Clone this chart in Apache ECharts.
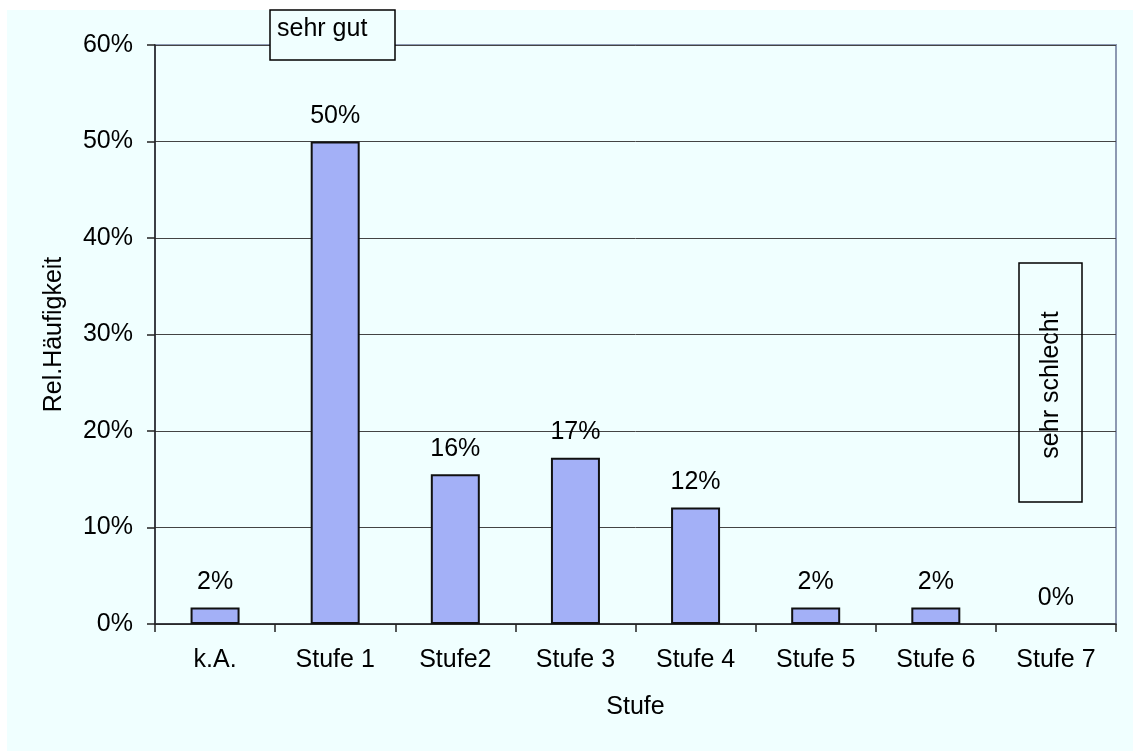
<!DOCTYPE html>
<html>
<head>
<meta charset="utf-8">
<script src="https://cdn.jsdelivr.net/npm/echarts@6/dist/echarts.min.js"></script>
<style>
  html, body { margin: 0; padding: 0; background: #ffffff; }
  #bg { position: absolute; left: 7px; top: 10px; width: 1126px; height: 741px; background: #F0FFFF; }
  #chart { position: absolute; left: 0; top: 0; width: 1133px; height: 753px; }
</style>
</head>
<body>
<div id="bg"></div>
<div id="chart"></div>
<script>
const categories = ['k.A.', 'Stufe 1', 'Stufe2', 'Stufe 3', 'Stufe 4', 'Stufe 5', 'Stufe 6', 'Stufe 7'];
const values = [0.0172, 0.5, 0.1552, 0.1724, 0.1207, 0.0172, 0.0172, 0];
const yTicks = [0, 0.1, 0.2, 0.3, 0.4, 0.5, 0.6];
const xTitle = 'Stufe';
const yTitle = 'Rel.Häufigkeit';
const noteTop = 'sehr gut';
const noteBottom = 'sehr schlecht';

const FONT = 'Liberation Sans, Arial, sans-serif';
const FS = 25;
const pct = v => Math.round(v * 100) + '%';

const chart = echarts.init(document.getElementById('chart'), null, { renderer: 'canvas' });
chart.setOption({
  backgroundColor: 'transparent',
  animation: false,
  textStyle: { fontFamily: FONT, color: '#000' },
  grid: { left: 155, right: 17, top: 45, bottom: 129, show: true, borderColor: '#8c99b2', borderWidth: 2, backgroundColor: 'transparent' },
  xAxis: {
    type: 'category',
    data: categories,
    name: xTitle,
    nameLocation: 'middle',
    nameGap: 71,
    nameTextStyle: { fontSize: FS, color: '#000', fontFamily: FONT },
    axisLine: { lineStyle: { color: '#222', width: 1.5 } },
    axisTick: { show: true, alignWithLabel: false, length: 8, lineStyle: { color: '#222', width: 1.5 } },
    axisLabel: { fontSize: FS, color: '#000', margin: 24, fontFamily: FONT, interval: 0 }
  },
  yAxis: {
    type: 'value',
    min: yTicks[0],
    max: yTicks[yTicks.length - 1],
    interval: yTicks[1] - yTicks[0],
    name: yTitle,
    nameLocation: 'middle',
    nameGap: 88,
    nameRotate: 90,
    nameTextStyle: { fontSize: FS, color: '#000', fontFamily: FONT },
    axisLine: { show: true, lineStyle: { color: '#222', width: 1.5 } },
    axisTick: { show: true, length: 8, lineStyle: { color: '#222', width: 1.5 } },
    axisLabel: { fontSize: FS, color: '#000', margin: 22, fontFamily: FONT, formatter: v => pct(v) },
    splitLine: { show: true, lineStyle: { color: '#444', width: 1 } }
  },
  series: [{
    type: 'bar',
    data: values.map(v => v === 0 ? { value: v, itemStyle: { borderWidth: 0 } } : v),
    barWidth: 49,
    itemStyle: { color: '#A3B0F7', borderColor: '#111', borderWidth: 2 },
    label: {
      show: true,
      position: 'top',
      distance: 13,
      fontSize: FS,
      color: '#000',
      fontFamily: FONT,
      formatter: p => pct(p.value)
    }
  }],
  graphic: [
    {
      type: 'rect',
      shape: { x: 270, y: 10, width: 125, height: 50 },
      style: { fill: '#F0FFFF', stroke: '#000', lineWidth: 1.5 },
      z: 100
    },
    {
      type: 'text',
      x: 277, y: 29,
      style: { text: noteTop, font: FS + 'px ' + FONT, fill: '#000', align: 'left', verticalAlign: 'middle' },
      z: 101
    },
    {
      type: 'rect',
      shape: { x: 1019, y: 263, width: 63, height: 239 },
      style: { fill: 'none', stroke: '#000', lineWidth: 1.5 },
      z: 100
    },
    {
      type: 'text',
      x: 1051, y: 385,
      rotation: Math.PI / 2,
      style: { text: noteBottom, font: FS + 'px ' + FONT, fill: '#000', align: 'center', verticalAlign: 'middle' },
      z: 101
    }
  ]
});
</script>
</body>
</html>
